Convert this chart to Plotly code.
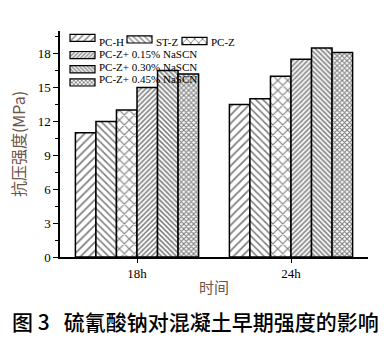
import plotly.graph_objects as go

# Curing ages on the category axis
ages = ["18h", "24h"]

# Compressive strength (MPa) per mix
pc_h = [11.0, 13.5]
st_z = [12.0, 14.0]
pc_z = [13.0, 16.0]
pc_z_015 = [15.0, 17.5]
pc_z_030 = [16.5, 18.5]
pc_z_045 = [16.2, 18.1]

series_names = ["PC-H", "ST-Z", "PC-Z",
                "PC-Z+ 0.15% NaSCN", "PC-Z+ 0.30% NaSCN", "PC-Z+ 0.45% NaSCN"]
series_values = [pc_h, st_z, pc_z, pc_z_015, pc_z_030, pc_z_045]

y_ticks = [0, 3, 6, 9, 12, 15, 18]

# hatch style per series: (shape, tile size, solidity)
hatches = [("/", 6, 0.3), ("\\", 5, 0.32), ("x", 7, 0.3),
           ("/", 3.5, 0.45), ("\\", 3.5, 0.45), ("x", 3.5, 0.55)]

# legend grid: (left edge, row centre) in pixel space of the overlay axes
legend_slots = [(70, 17), (127, 17), (182, 17), (70, 31), (70, 45), (70, 58)]
SWATCH_W, SWATCH_H = 25, 8

W, H = 388, 338
M_L, M_R, M_T, M_B = 60, 20, 5, 81
PLOT_TOP = 31  # pixel row where the value axis ends

serif = "Liberation Serif"
brown = "#6e5546"


def pattern(shape, size, sol):
    return dict(shape=shape, size=size, solidity=sol,
                fgcolor="black", bgcolor="white", fillmode="overlay")


fig = go.Figure()
for name, vals, (shape, size, sol) in zip(series_names, series_values, hatches):
    fig.add_trace(go.Bar(
        x=ages, y=vals, name=name, showlegend=False,
        marker=dict(color="white", line=dict(color="black", width=1.5),
                    pattern=pattern(shape, size, sol)),
    ))

# hatched key swatches on a pixel-scaled overlay
for name, (shape, size, sol), (x0, yc) in zip(series_names, hatches, legend_slots):
    fig.add_trace(go.Bar(
        x=[SWATCH_W], y=[yc], base=[x0], orientation="h", width=SWATCH_H,
        xaxis="x2", yaxis="y2", showlegend=False, hoverinfo="skip",
        marker=dict(color="white", line=dict(color="black", width=1.2),
                    pattern=pattern(shape, size * 0.8, sol)),
    ))
    fig.add_annotation(
        text=name, xref="x2", yref="y2", x=x0 + SWATCH_W + 2, y=yc,
        xanchor="left", yanchor="middle", showarrow=False,
        font=dict(family=serif, size=11, color="black"),
    )

plot_h = H - M_T - M_B
fig.update_layout(
    width=W, height=H,
    margin=dict(l=M_L, r=M_R, t=M_T, b=M_B),
    paper_bgcolor="white", plot_bgcolor="rgba(0,0,0,0)",
    barmode="group", bargap=0.2, bargroupgap=0,
    showlegend=False,
    font=dict(family=serif, color="black", size=13),
    xaxis=dict(
        showline=True, linecolor="black", linewidth=1.5,
        ticks="outside", ticklen=4, tickcolor="black", tickwidth=1,
        tickfont=dict(family=serif, size=13),
        showgrid=False, zeroline=False,
        title=dict(text="时间", font=dict(family="Noto Sans CJK SC", size=15, color=brown),
                   standoff=2),
    ),
    yaxis=dict(
        domain=[0, (H - M_B - PLOT_TOP) / plot_h],
        range=[0, 20], tickvals=y_ticks,
        showline=True, linecolor="black", linewidth=1.5,
        ticks="outside", ticklen=5, tickcolor="black", tickwidth=1,
        minor=dict(dtick=1.5, ticks="outside", ticklen=3, tickcolor="black"),
        tickfont=dict(family=serif, size=13),
        showgrid=False, zeroline=False,
        title=dict(text="抗压强度(MPa)",
                   font=dict(family="Noto Sans CJK SC", size=16, color=brown),
                   standoff=8),
    ),
    xaxis2=dict(overlaying="x", anchor="y2", range=[M_L, W - M_R], visible=False,
                fixedrange=True),
    yaxis2=dict(overlaying="y", anchor="x2", domain=[0, 1], range=[H - M_B, M_T],
                visible=False, fixedrange=True),
)

fig.add_annotation(
    text="图 3   硫氰酸钠对混凝土早期强度的影响",
    xref="paper", yref="paper", x=(195 - M_L) / (W - M_L - M_R), y=-(321 - (H - M_B)) / plot_h,
    xanchor="center", yanchor="middle", showarrow=False,
    font=dict(family="Noto Sans CJK SC", size=21, color="black", weight=500),
)

fig.write_html("out.html")
